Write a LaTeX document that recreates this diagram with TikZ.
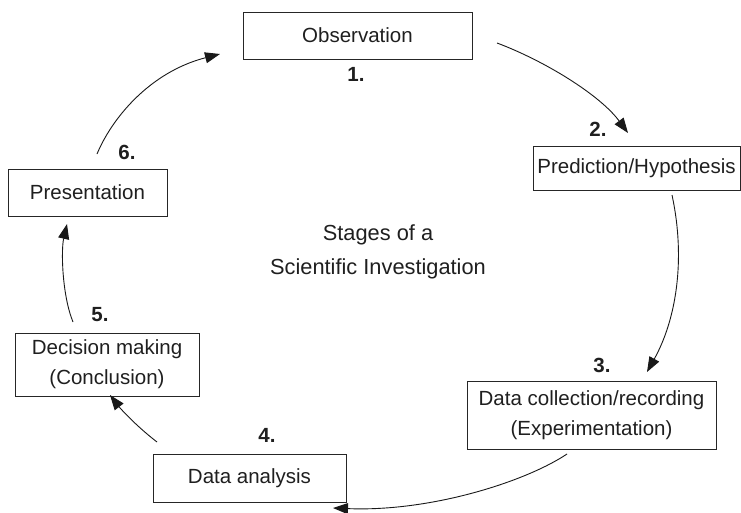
\documentclass[tikz,border=0pt]{standalone}
\usepackage{fontspec}
\setmainfont{Liberation Sans}
\usetikzlibrary{arrows.meta}
\begin{document}
\begin{tikzpicture}[x=1pt,y=-1pt,
  stage/.style={draw=black!85,line width=1pt,rectangle,inner sep=0pt,align=center,
    text=black!88,font=\fontsize{20.5}{30}\selectfont},
  num/.style={text=black!88,font=\fontsize{20.5}{24}\selectfont\bfseries,inner sep=0pt},
  flow/.style={draw=black!90,line width=0.9pt,-{Triangle[length=15pt,width=11pt]}}]
\useasboundingbox (0,0) rectangle (741,512);
\node[stage,minimum width=229pt,minimum height=47pt] (obs) at (357.5,35.5) {Observation};
\node[stage,minimum width=207pt,minimum height=44pt] (pred) at (636.5,168) {Prediction/Hypothesis};
\node[stage,minimum width=249pt,minimum height=68pt] (data) at (591.5,415) {Data collection/recording\\(Experimentation)};
\node[stage,minimum width=193pt,minimum height=48pt] (ana) at (249.5,478) {Data analysis};
\node[stage,minimum width=184pt,minimum height=63pt] (dec) at (107,364.5) {Decision making\\(Conclusion)};
\node[stage,minimum width=159pt,minimum height=47pt] (pres) at (87.5,192.5) {Presentation};
\node[align=center,text=black!88,font=\fontsize{21.8}{34}\selectfont,inner sep=0pt] (title) at (378,252) {Stages of a\\Scientific Investigation};
\node[num] (n1) at (356,74) {1.};
\node[num] (n2) at (598,129) {2.};
\node[num] (n3) at (602,365) {3.};
\node[num] (n4) at (267,435) {4.};
\node[num] (n5) at (100,315) {5.};
\node[num] (n6) at (127,152) {6.};
\coordinate (a1s) at (497,43);  \coordinate (a1e) at (628,133);
\coordinate (a2s) at (672,195); \coordinate (a2e) at (647,372);
\coordinate (a3s) at (567,454); \coordinate (a3e) at (333,508);
\coordinate (a4s) at (157,442); \coordinate (a4e) at (110,395);
\coordinate (a5s) at (73,322);  \coordinate (a5e) at (67,224);
\coordinate (a6s) at (97,154);  \coordinate (a6e) at (220,54);
\draw[flow] (a1s) .. controls (545,61) and (600,95) .. (a1e);
\draw[flow] (a2s) .. controls (686,260) and (676,320) .. (a2e);
\draw[flow] (a3s) .. controls (525,482) and (430,512) .. (a3e);
\draw[flow] (a4s) .. controls (135,425) and (120,408) .. (a4e);
\draw[flow] (a5s) .. controls (62,295) and (61,250) .. (a5e);
\draw[flow] (a6s) .. controls (112,118) and (150,72) .. (a6e);
\end{tikzpicture}
\end{document}
